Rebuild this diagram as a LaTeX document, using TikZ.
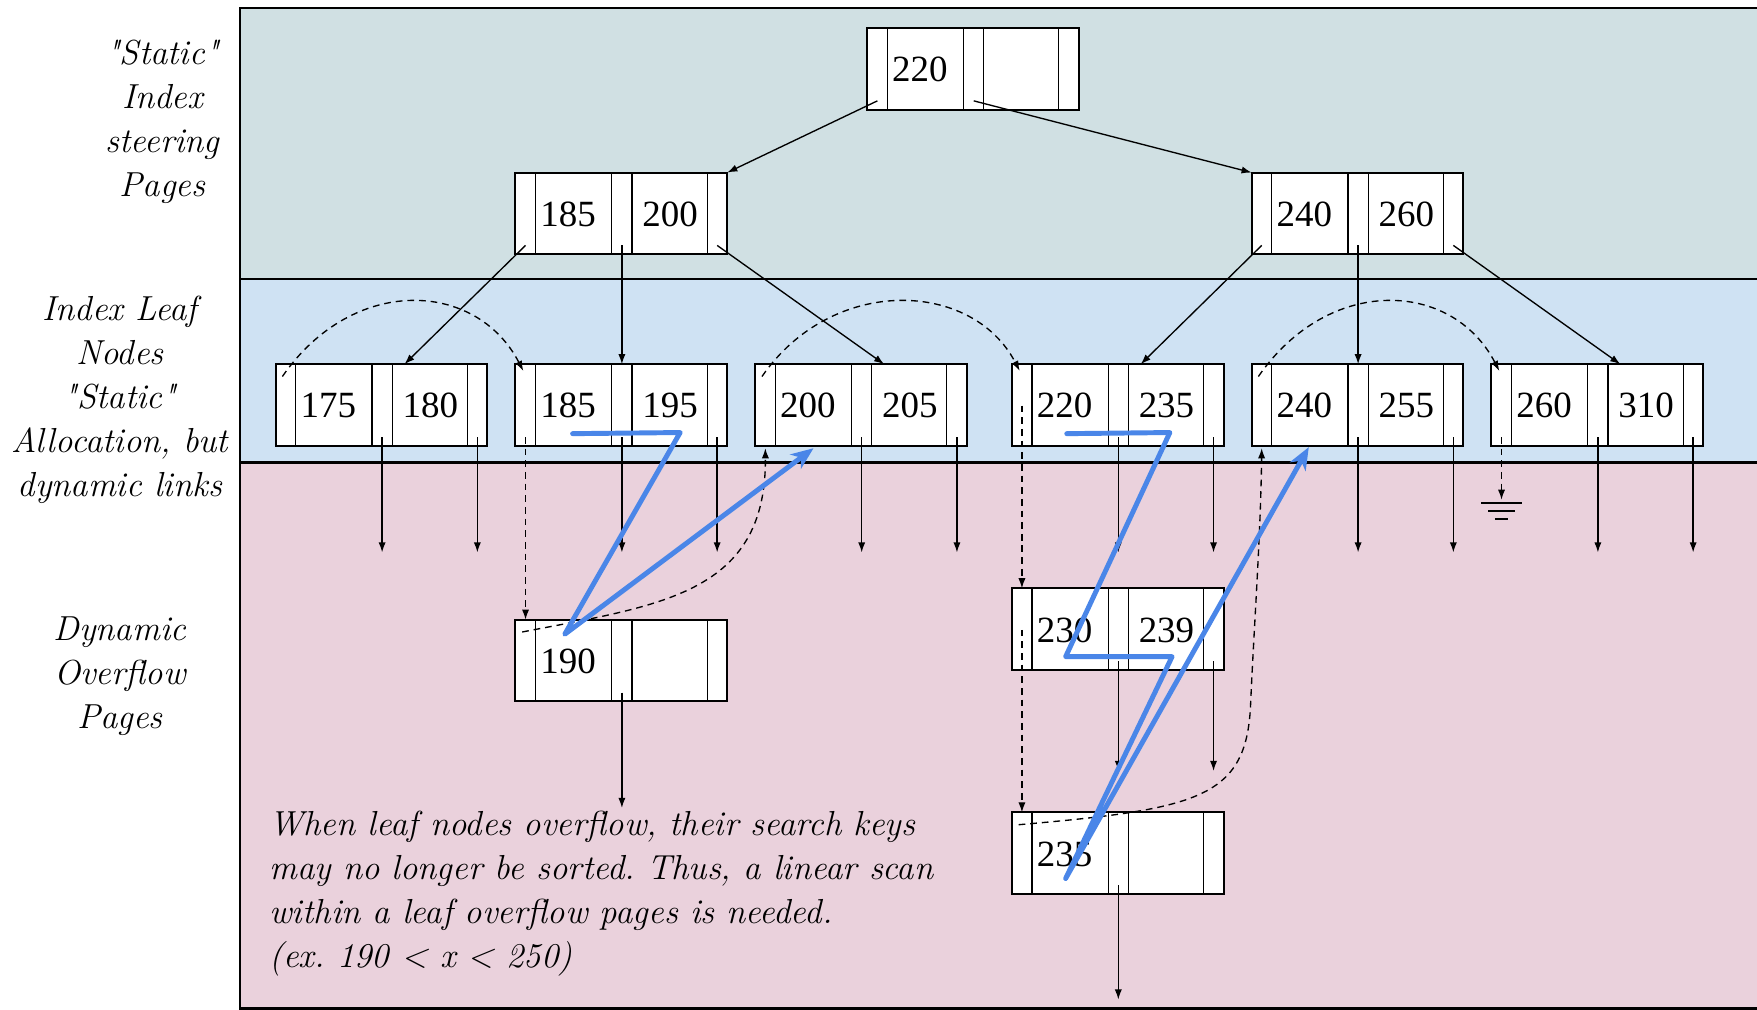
\documentclass[tikz,border=0pt]{standalone}
\usepackage{fontspec}
\newfontfamily\numfont{Liberation Serif}
\usetikzlibrary{arrows.meta}
\definecolor{bgteal}{HTML}{D0E0E3}
\definecolor{bgblue}{HTML}{CFE2F3}
\definecolor{bgpink}{HTML}{EAD1DC}
\definecolor{pathblue}{HTML}{4A86E8}
\newcommand\sq{\XeTeXglyph\XeTeXcharglyph"22\relax}
\frenchspacing
\tikzset{
  pagenode/.style={draw, line width=0.9pt, fill=white, minimum width=94.5pt, minimum height=36.5pt, inner sep=0pt, outer sep=0pt},
  cellline/.style={line width=0.5pt},
  keytext/.style={anchor=base, inner sep=0pt, font=\numfont\fontsize{16.5pt}{18pt}\selectfont},
  ptr/.style={line width=0.6pt, -{Latex[length=4.5pt,width=3.2pt]}},
  dptr/.style={ptr, dash pattern=on 3pt off 2.2pt},
  sidelbl/.style={align=center, inner sep=0pt, font=\itshape\fontsize{15.5pt}{19.6pt}\selectfont},
  bluepath/.style={draw=pathblue, line width=2.2pt, line join=round, line cap=round},
  frameline/.style={line width=1pt},
  divline/.style={line width=1.3pt}
}
\newcommand\pagebox[5]{%
  \node[pagenode] (#1) at (#2+94.5,#3+36.5) {};
  \draw[cellline] (#2+18,#3) -- (#2+18,#3+73);
  \draw[cellline] (#2+86,#3) -- (#2+86,#3+73);
  \draw[cellline] (#2+104,#3) -- (#2+104,#3+73);
  \draw[cellline] (#2+171,#3) -- (#2+171,#3+73);
  \node[keytext] (#1-k1) at (#2+47,#3+48) {#4};
  \node[keytext] (#1-k2) at (#2+138,#3+48) {#5};
  \coordinate (#1-p0) at (#2+9,#3+65);
  \coordinate (#1-p1) at (#2+95,#3+65);
  \coordinate (#1-p2) at (#2+180,#3+65);
  \coordinate (#1-pm) at (#2+9,#3+37);
  \coordinate (#1-t) at (#2+115,#3);
  \coordinate (#1-tm) at (#2+95,#3);
  \coordinate (#1-tp) at (#2+9,#3);
  \coordinate (#1-s) at (#2+6,#3+11);
  \coordinate (#1-e) at (#2+7,#3+6);
  \coordinate (#1-bp) at (#2+9,#3+75);
}
\begin{document}
\begin{tikzpicture}[x=0.5pt,y=-0.5pt]
\useasboundingbox (0,0) rectangle (1568,901);
% backgrounds
\fill[bgteal] (214,7) rectangle (1570,249);
\fill[bgblue] (214,249) rectangle (1570,413);
\fill[bgpink] (214,413) rectangle (1570,901);
\draw[frameline] (1572,7) -- (214,7) -- (214,900) -- (1572,900);
\draw[divline] (214,249) -- (1572,249);
\draw[divline] (214,413) -- (1572,413);
% side labels (base = last line)
\node[sidelbl, anchor=base] (lab1) at (145,175) {\sq Static\sq\\Index\\steering\\Pages};
\node[sidelbl, anchor=base] (lab2) at (107,443) {Index Leaf\\Nodes\\\sq Static\sq\\Allocation, but\\dynamic links};
\node[sidelbl, anchor=base] (lab3) at (107,650) {Dynamic\\Overflow\\Pages};
% boxes
\pagebox{root}{774}{25}{220}{}
\pagebox{ia}{460}{154}{185}{200}
\pagebox{ib}{1117}{154}{240}{260}
\pagebox{la}{246}{325}{175}{180}
\pagebox{lb}{460}{325}{185}{195}
\pagebox{lc}{674}{325}{200}{205}
\pagebox{ld}{903}{325}{220}{235}
\pagebox{le}{1117}{325}{240}{255}
\pagebox{lf}{1331}{325}{260}{310}
\pagebox{oa}{460}{553}{190}{}
\pagebox{ob}{903}{525}{230}{239}
\pagebox{oc}{903}{725}{235}{}
% free ends
\coordinate (dnl) at (0,493);
\coordinate (dnoa) at (0,721);
\coordinate (dnob) at (0,688);
\coordinate (dnoc) at (0,892);
\coordinate (gnd) at (1340,446);
% tree pointers
\draw[ptr] (root-p0) -- (ia.north east);
\draw[ptr] (root-p1) -- (ib.north west);
\draw[ptr] (ia-p0) -- (la-t);
\draw[ptr] (ia-p1) -- (lb-tm);
\draw[ptr] (ia-p2) -- (lc-t);
\draw[ptr] (ib-p0) -- (ld-t);
\draw[ptr] (ib-p1) -- (le-tm);
\draw[ptr] (ib-p2) -- (lf-t);
% record pointers
\foreach \b in {la,lb,lc,ld,le,lf}{
  \draw[ptr] (\b-p1) -- (\b-p1 |- dnl);
  \draw[ptr] (\b-p2) -- (\b-p2 |- dnl);
}
\draw[ptr] (oa-p1) -- (oa-p1 |- dnoa);
\draw[ptr] (ob-p1) -- (ob-p1 |- dnob);
\draw[ptr] (ob-p2) -- (ob-p2 |- dnob);
\draw[ptr] (oc-p1) -- (oc-p1 |- dnoc);
% sibling links
\draw[dptr] (la-s) .. controls +(63,-91) and +(-42,-81) .. (lb-e);
\draw[dptr] (lc-s) .. controls +(63,-91) and +(-42,-81) .. (ld-e);
\draw[dptr] (le-s) .. controls +(63,-91) and +(-42,-81) .. (lf-e);
% overflow links
\draw[dptr] (lb-p0) -- (oa-tp);
\draw[dptr] (ld-pm) -- (ob-tp);
\draw[dptr] (ob-pm) -- (oc-tp);
\draw[dptr] (oa-s) .. controls (590,540) and (684,530) .. (lc-bp);
\draw[dptr] (oc-s) .. controls (1070,722) and (1112,712) .. (1116,630) .. controls (1119,560) and (1125,480) .. (le-bp);
\draw[dptr] (lf-p0) -- (gnd);
\draw[line width=0.7pt] ([shift={(-18,3)}]gnd) -- ([shift={(18,3)}]gnd);
\draw[line width=0.7pt] ([shift={(-12,10)}]gnd) -- ([shift={(12,10)}]gnd);
\draw[line width=0.7pt] ([shift={(-6,17)}]gnd) -- ([shift={(6,17)}]gnd);
% note
\node[sidelbl, align=left, anchor=base west] (note) at (240,863) {When leaf nodes overflow, their search keys\\may no longer be sorted. Thus, a linear scan\\within a leaf overflow pages is needed.\\(ex. 190 < x < 250)};
% blue search paths
\coordinate (b1) at (511,387);
\coordinate (b2) at (607,386);
\coordinate (b3) at (504,566);
\coordinate (b4) at (726,400);
\draw[bluepath, -{Stealth[length=10pt,width=8pt,inset=3pt]}] (b1) -- (b2) -- (b3) -- (b4);
\coordinate (c1) at (952,387);
\coordinate (c2) at (1044,386);
\coordinate (c3) at (951,586);
\coordinate (c4) at (1046,586);
\coordinate (c5) at (951,784);
\coordinate (c6) at (1168,399);
\draw[bluepath, -{Stealth[length=10pt,width=8pt,inset=3pt]}] (c1) -- (c2) -- (c3) -- (c4) -- (c5) -- (c6);
\end{tikzpicture}
\end{document}
